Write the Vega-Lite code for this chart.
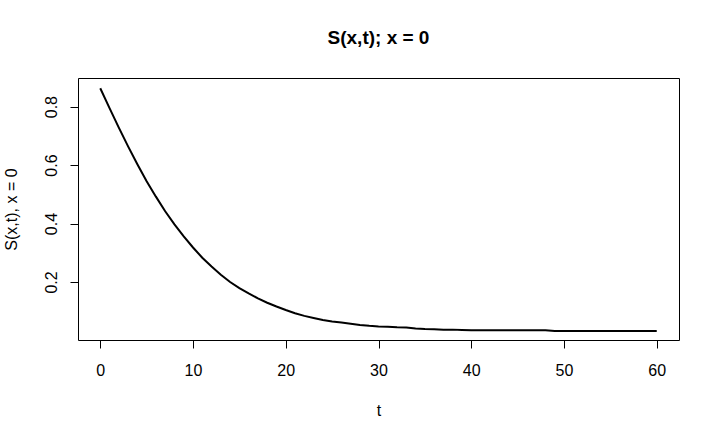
{
  "$schema": "https://vega.github.io/schema/vega-lite/v6.json",
  "autosize": {"type": "none"},
  "padding": {"left": 78, "top": 78, "right": 40, "bottom": 99},
  "width": 601,
  "height": 262,
  "background": "white",
  "title": {
    "text": "S(x,t); x = 0",
    "font": "Liberation Sans",
    "fontSize": 19,
    "fontWeight": "bold",
    "color": "black",
    "anchor": "middle",
    "frame": "group",
    "offset": 30
  },
  "config": {
    "view": {"stroke": "black", "strokeWidth": 1},
    "axis": {
      "domain": false,
      "grid": false,
      "tickColor": "black",
      "tickSize": 8,
      "tickWidth": 1,
      "labelFont": "Liberation Sans",
      "labelFontSize": 16,
      "labelColor": "black",
      "titleFont": "Liberation Sans",
      "titleFontSize": 16,
      "titleFontWeight": "normal",
      "titleColor": "black"
    }
  },
  "data": {
    "values": [
      {"t": 0, "S": 0.863},
      {"t": 1, "S": 0.795},
      {"t": 2, "S": 0.728},
      {"t": 3, "S": 0.664},
      {"t": 4, "S": 0.603},
      {"t": 5, "S": 0.545},
      {"t": 6, "S": 0.492},
      {"t": 7, "S": 0.442},
      {"t": 8, "S": 0.397},
      {"t": 9, "S": 0.356},
      {"t": 10, "S": 0.318},
      {"t": 11, "S": 0.283},
      {"t": 12, "S": 0.253},
      {"t": 13, "S": 0.225},
      {"t": 14, "S": 0.2},
      {"t": 15, "S": 0.179},
      {"t": 16, "S": 0.161},
      {"t": 17, "S": 0.144},
      {"t": 18, "S": 0.129},
      {"t": 19, "S": 0.116},
      {"t": 20, "S": 0.104},
      {"t": 21, "S": 0.093},
      {"t": 22, "S": 0.084},
      {"t": 23, "S": 0.077},
      {"t": 24, "S": 0.07},
      {"t": 25, "S": 0.065},
      {"t": 26, "S": 0.061},
      {"t": 27, "S": 0.057},
      {"t": 28, "S": 0.053},
      {"t": 29, "S": 0.05},
      {"t": 30, "S": 0.048},
      {"t": 31, "S": 0.047},
      {"t": 32, "S": 0.045},
      {"t": 33, "S": 0.044},
      {"t": 34, "S": 0.041},
      {"t": 35, "S": 0.039},
      {"t": 36, "S": 0.038},
      {"t": 37, "S": 0.037},
      {"t": 38, "S": 0.037},
      {"t": 39, "S": 0.036},
      {"t": 40, "S": 0.035},
      {"t": 41, "S": 0.035},
      {"t": 42, "S": 0.035},
      {"t": 43, "S": 0.035},
      {"t": 44, "S": 0.035},
      {"t": 45, "S": 0.035},
      {"t": 46, "S": 0.035},
      {"t": 47, "S": 0.035},
      {"t": 48, "S": 0.035},
      {"t": 49, "S": 0.032},
      {"t": 50, "S": 0.032},
      {"t": 51, "S": 0.032},
      {"t": 52, "S": 0.032},
      {"t": 53, "S": 0.032},
      {"t": 54, "S": 0.032},
      {"t": 55, "S": 0.032},
      {"t": 56, "S": 0.032},
      {"t": 57, "S": 0.032},
      {"t": 58, "S": 0.032},
      {"t": 59, "S": 0.032},
      {"t": 60, "S": 0.032}
    ]
  },
  "mark": {"type": "line", "color": "black", "strokeWidth": 2},
  "encoding": {
    "x": {
      "field": "t",
      "type": "quantitative",
      "title": "t",
      "scale": {"domain": [-2.4, 62.4], "nice": false, "zero": false},
      "axis": {
        "values": [0, 10, 20, 30, 40, 50, 60],
        "labelPadding": 14,
        "labelFlush": false,
        "labelOverlap": false,
        "titleY": 75,
        "titleBaseline": "alphabetic"
      }
    },
    "y": {
      "field": "S",
      "type": "quantitative",
      "title": "S(x,t), x = 0",
      "scale": {"domain": [0.0015, 0.898], "nice": false, "zero": false},
      "axis": {
        "values": [0.2, 0.4, 0.6, 0.8],
        "format": ".1f",
        "labelAngle": -90,
        "labelAlign": "center",
        "labelBaseline": "bottom",
        "labelPadding": 11,
        "labelFlush": false,
        "labelOverlap": false,
        "titleX": -62,
        "titleBaseline": "alphabetic"
      }
    }
  }
}
